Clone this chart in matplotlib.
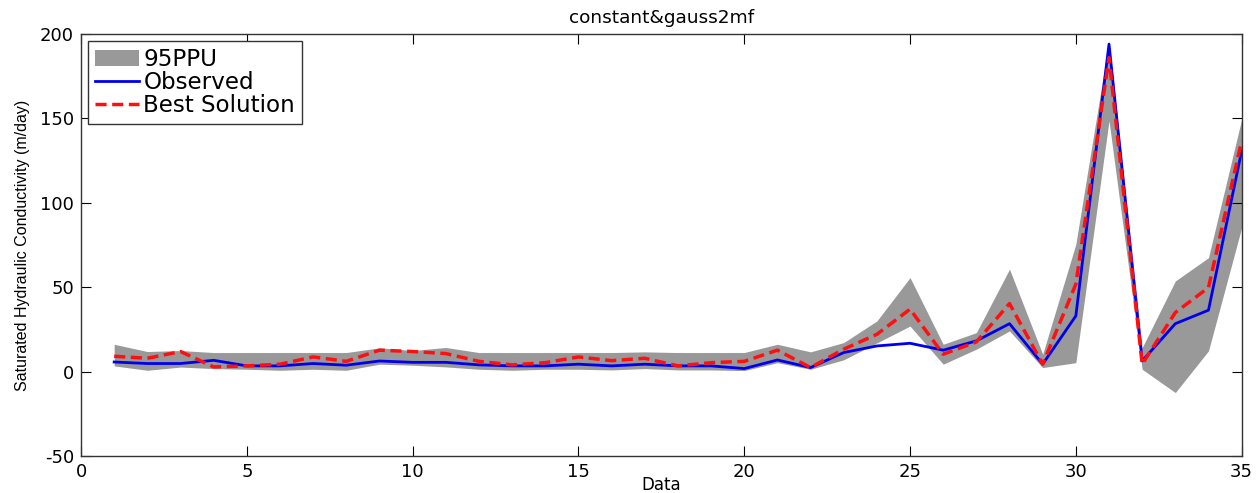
"""
Observed vs best-solution saturated hydraulic conductivity with 95PPU band.
"""

import numpy as np
import matplotlib
matplotlib.use("Agg")
import matplotlib.pyplot as plt

# ------------ data ------------ #
data_idx = list(range(1, 36))
observed = [5.7, 4.8, 4.8, 6.7, 3.4, 3.4, 4.8, 3.8, 6.3, 5.5,
            5.5, 4.0, 3.4, 3.4, 4.4, 3.4, 4.4, 3.4, 3.4, 1.8,
            6.9, 2.4, 11.3, 15.2, 16.8, 12.7, 18.2, 28.4, 4.4, 33.0,
            194.0, 6.3, 28.4, 36.4, 130.7]
best = [9.1, 7.9, 11.9, 2.8, 3.4, 4.4, 8.7, 6.1, 12.7, 11.9,
        10.7, 6.1, 4.0, 5.3, 8.7, 6.5, 7.9, 3.4, 5.3, 6.1,
        12.7, 2.4, 13.3, 22.1, 37.0, 10.3, 17.6, 40.3, 4.4, 51.8,
        186.0, 4.4, 35.0, 49.8, 136.7]
ppu_upper = [16.2, 11.9, 12.5, 11.3, 11.3, 11.3, 11.3, 11.3, 14.1, 12.5,
             14.3, 11.3, 11.3, 11.3, 11.3, 11.3, 11.7, 11.3, 11.3, 11.3,
             16.2, 11.7, 17.2, 30.0, 55.7, 16.2, 23.1, 60.7, 10.3, 75.5,
             196.0, 14.2, 53.7, 67.5, 149.5]
ppu_lower = [3.4, 0.8, 2.7, 1.8, 1.4, 0.8, 1.4, 0.8, 4.4, 3.8,
             2.8, 1.4, 0.8, 1.4, 1.4, 1.0, 1.8, 1.0, 1.0, 0.6,
             5.3, 1.4, 7.0, 17.0, 27.0, 4.4, 13.3, 24.1, 2.4, 5.3,
             148.6, 1.4, -12.4, 12.3, 85.3]

x_ticks = [0, 5, 10, 15, 20, 25, 30, 35]
y_ticks = [-50, 0, 50, 100, 150, 200]


def main():
    plt.rcParams["font.family"] = ["DejaVu Sans"]
    plt.rcParams["axes.unicode_minus"] = False

    fig = plt.figure(figsize=(12.58, 4.93), dpi=100)
    ax = fig.add_axes([0.0644, 0.075, 0.9226, 0.856])

    ax.fill_between(data_idx, ppu_lower, ppu_upper, color="#999999",
                    linewidth=0, label="95PPU")
    ax.plot(data_idx, observed, color="#0000ee", linewidth=2.0,
            label="Observed")
    ax.plot(data_idx, best, color="#ff1010", linewidth=2.5,
            linestyle=(0, (3.2, 1.6)), label="Best Solution")

    ax.set_xlim(0, 35)
    ax.set_ylim(-50, 200)
    ax.set_xticks(x_ticks)
    ax.set_yticks(y_ticks)
    ax.tick_params(direction="in", top=True, right=True, length=7,
                   labelsize=13)
    ax.tick_params(axis="x", pad=5)
    ax.tick_params(axis="y", pad=5)
    for s in ax.spines.values():
        s.set_linewidth(1.0)
        s.set_color("#333333")

    ax.set_title("constant&gauss2mf", fontsize=13.3, pad=8)

    # labels placed by hand, the reference has them tight to the edges
    ax.set_xlabel("Data", fontsize=12)
    ax.xaxis.set_label_coords(0.5, -0.047)
    ax.xaxis.label.set_va("top")
    ax.set_ylabel("Saturated Hydraulic Conductivity (m/day)",
                  fontsize=11.5, family="Liberation Sans")
    ax.yaxis.set_label_coords(-0.05, 0.5)
    ax.yaxis.label.set_va("center")
    ax.yaxis.label.set_ha("center")

    leg = ax.legend(loc="upper left", fontsize=16.6, handlelength=1.9,
                    handletextpad=0.2, borderpad=0.3, labelspacing=0.0,
                    borderaxespad=0.3, fancybox=False, framealpha=1)
    leg.get_frame().set_edgecolor("#333333")
    leg.get_frame().set_linewidth(1.0)

    fig.savefig("out.png", dpi=100)
    plt.close(fig)


if __name__ == "__main__":
    main()
